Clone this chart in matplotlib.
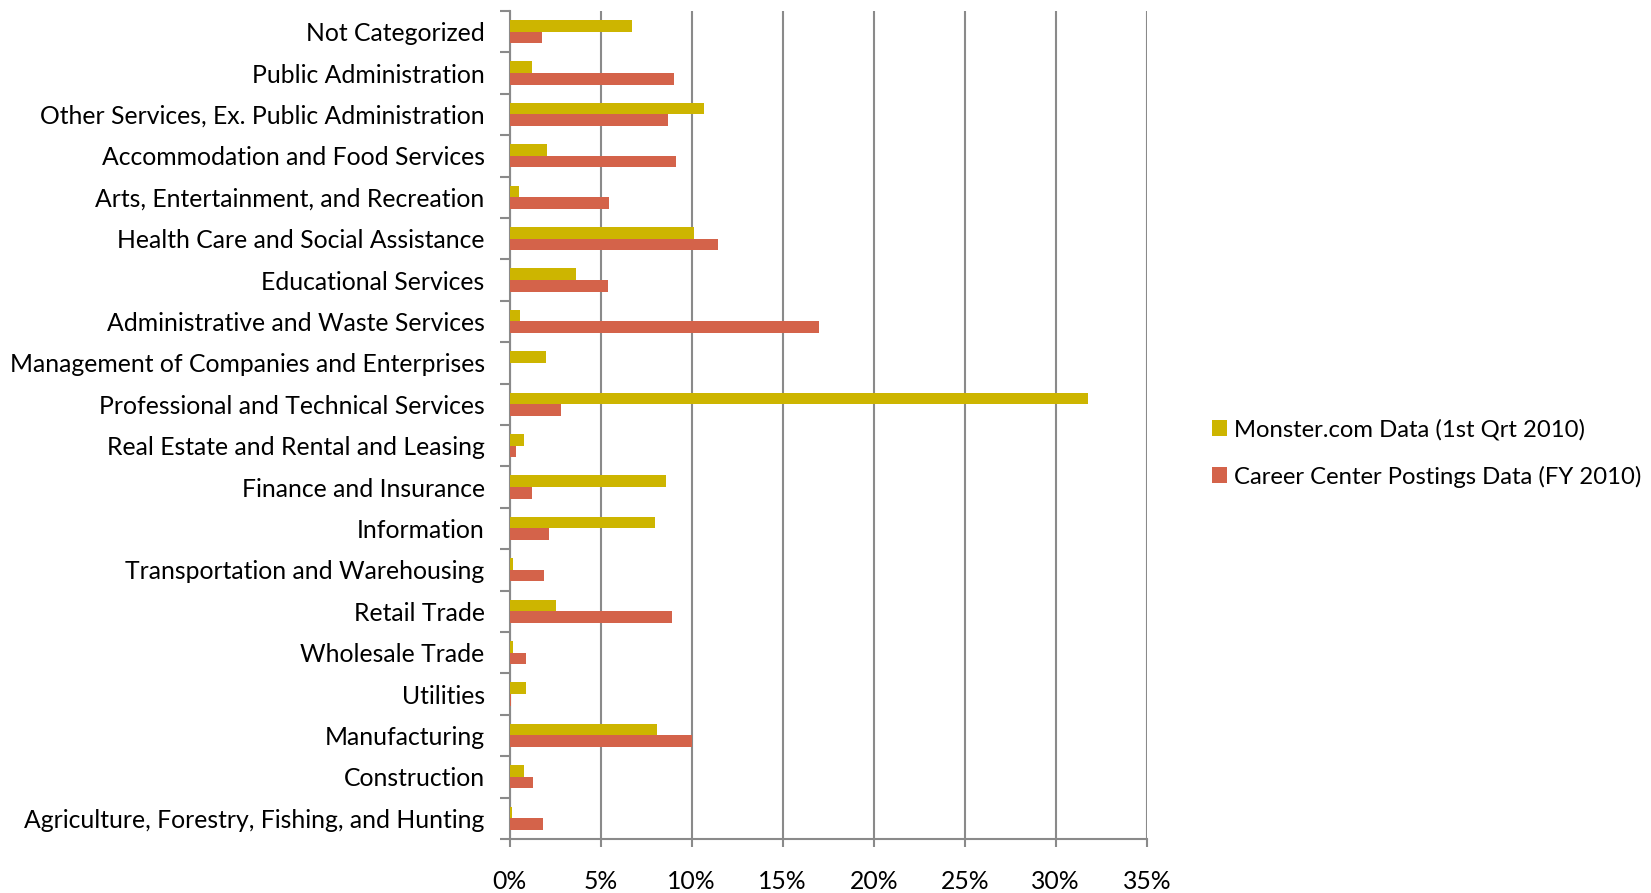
"""
Industry share of job postings: Monster.com vs Career Center postings (2010)
"""

import matplotlib
matplotlib.use("Agg")
import matplotlib.pyplot as plt
import numpy as np
from matplotlib.ticker import FixedLocator, PercentFormatter

# ── Style ─────────────────────────────────────────────────────────────
plt.rcParams.update({
    "font.family": ["Lato", "DejaVu Sans"],
    "font.size": 17.8,
    "axes.edgecolor": "#8a8a8a",
    "xtick.color": "#8a8a8a",
    "ytick.color": "#8a8a8a",
    "xtick.labelcolor": "black",
    "ytick.labelcolor": "black",
})
MONSTER_C = "#CDB500"
CAREER_C = "#D4634A"
GRID_C = "#8a8a8a"

# ── Data (top to bottom, % of postings) ───────────────────────────────
industries = [
    "Not Categorized",
    "Public Administration",
    "Other Services, Ex. Public Administration",
    "Accommodation and Food Services",
    "Arts, Entertainment, and Recreation",
    "Health Care and Social Assistance",
    "Educational Services",
    "Administrative and Waste Services",
    "Management of Companies and Enterprises",
    "Professional and Technical Services",
    "Real Estate and Rental and Leasing",
    "Finance and Insurance",
    "Information",
    "Transportation and Warehousing",
    "Retail Trade",
    "Wholesale Trade",
    "Utilities",
    "Manufacturing",
    "Construction",
    "Agriculture, Forestry, Fishing, and Hunting",
]
monster = [6.74, 1.2, 10.68, 2.03, 0.53, 10.15, 3.64, 0.58, 1.98, 31.75,
           0.78, 8.57, 8.0, 0.16, 2.54, 0.16, 0.88, 8.07, 0.79, 0.11]
career = [1.77, 9.03, 8.70, 9.16, 5.46, 11.46, 5.38, 17.01, 0.0, 2.84,
          0.37, 1.24, 2.14, 1.87, 8.9, 0.9, 0.05, 10.0, 1.3, 1.83]

# ── Plot ──────────────────────────────────────────────────────────────
fig = plt.figure(figsize=(16.51, 8.93), dpi=100)
ax = fig.add_axes([0.3087, 0.0605, 0.3859, 0.9272])

n = len(industries)
y = np.arange(n)[::-1].astype(float)
h = 0.28
ax.barh(y + h / 2, monster, h, color=MONSTER_C, label="Monster.com Data (1st Qrt 2010)", zorder=3)
ax.barh(y - h / 2, career, h, color=CAREER_C, label="Career Center Postings Data (FY 2010)", zorder=3)

ax.set_xlim(0, 35)
ax.set_ylim(-0.5, n - 0.5)
ax.xaxis.set_major_locator(FixedLocator(np.arange(0, 36, 5)))
ax.xaxis.set_major_formatter(PercentFormatter(decimals=0))
ax.grid(True, axis="x", color=GRID_C, linewidth=1.5, zorder=0)

ax.set_yticks(y)
ax.set_yticklabels(industries)
ax.yaxis.set_minor_locator(FixedLocator(np.arange(-0.5, n, 1.0)))
ax.tick_params(axis="y", which="major", length=0, pad=18)
ax.tick_params(axis="y", which="minor", length=7, width=1.5)
ax.tick_params(axis="x", which="major", length=6, width=1.5, pad=16)

for s in ("top", "right"):
    ax.spines[s].set_visible(False)
for s in ("left", "bottom"):
    ax.spines[s].set_linewidth(1.5)

ax.legend(loc="center left", bbox_to_anchor=(1.087, 0.466), frameon=False,
          fontsize=17.2, handlelength=0.65, handleheight=0.65, handletextpad=0.3,
          labelspacing=1.05, borderaxespad=0)

fig.savefig("out.png", dpi=100)
plt.close(fig)
